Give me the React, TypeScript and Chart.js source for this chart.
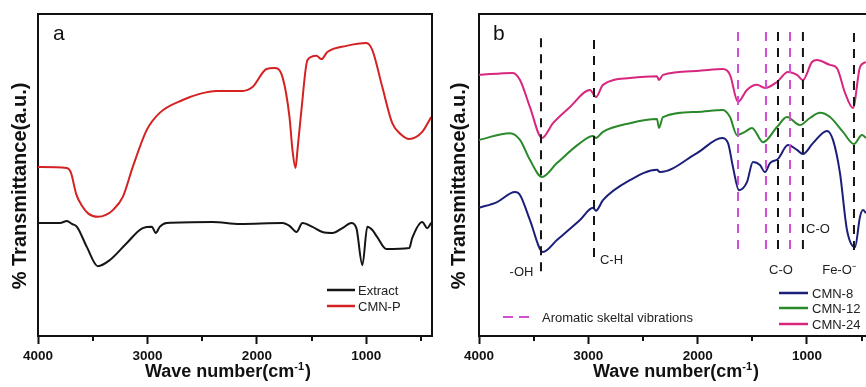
import React, { useEffect, useRef } from 'react';
import { Chart, registerables } from 'chart.js';

Chart.register(...registerables);

const FONT = '"Liberation Sans", Arial, Helvetica, sans-serif';

// ---------- Panel a ----------
const extractWave = [4000, 3799, 3736, 3690, 3644, 3553, 3453, 3343, 3188, 3043, 2960, 2924, 2888, 2824, 2404, 2158, 1766, 1702, 1638, 1584, 1492, 1401, 1310, 1219, 1137, 1091, 1036, 991, 945, 900, 818, 608, 581, 489, 444, 407];
const extractT = [35.1, 35.1, 35.7, 34.8, 33.9, 27.6, 21.7, 23.6, 28.9, 33.5, 33.9, 32.0, 33.9, 35.1, 35.4, 34.8, 35.1, 34.2, 32.3, 35.1, 33.9, 32.3, 32.0, 33.5, 35.1, 33.5, 22.0, 33.9, 32.9, 30.7, 27.0, 27.3, 30.4, 35.4, 33.5, 35.1];

const cmnPWave = [4000, 3736, 3700, 3650, 3600, 3540, 3453, 3380, 3316, 3225, 3134, 3006, 2888, 2678, 2523, 2368, 2131, 2040, 1912, 1839, 1766, 1702, 1675, 1647, 1629, 1593, 1538, 1456, 1410, 1356, 1182, 1000, 945, 854, 763, 680, 608, 489, 407];
const cmnPT = [52.5, 52.2, 50.8, 44.0, 40.5, 38.0, 37.0, 37.6, 39.1, 43.2, 52.5, 64.0, 69.3, 73.3, 75.2, 76.1, 76.1, 77.3, 82.9, 83.2, 80.4, 68.0, 57.8, 52.2, 57.8, 70.2, 85.7, 87.0, 86.0, 88.2, 90.1, 91.0, 88.8, 77.3, 66.1, 62.5, 61.2, 63.4, 68.0];

// ---------- Panel b ----------
const cmn8Wave = [4000, 3835, 3671, 3625, 3534, 3415, 3287, 3076, 2957, 2930, 2866, 2619, 2372, 2345, 2006, 1777, 1722, 1677, 1622, 1549, 1494, 1430, 1384, 1338, 1265, 1174, 1091, 1037, 945, 817, 762, 698, 634, 561, 515, 488, 460];
const cmn8T = [39.8, 41.6, 44.7, 43.8, 36.0, 26.1, 29.8, 36.0, 39.8, 38.9, 42.2, 48.4, 51.6, 50.9, 56.8, 61.5, 59.9, 52.5, 45.3, 47.8, 54.0, 53.1, 50.9, 53.7, 55.0, 59.3, 57.8, 56.5, 59.9, 63.7, 60.9, 50.6, 32.9, 27.6, 37.0, 39.1, 38.2];

const cmn12Wave = [4000, 3716, 3625, 3534, 3424, 3287, 3076, 2957, 2930, 2866, 2619, 2372, 2354, 2317, 2006, 1768, 1704, 1640, 1567, 1503, 1402, 1274, 1183, 1064, 973, 881, 790, 671, 570, 497, 460];
const cmn12T = [60.9, 63.0, 60.9, 54.7, 49.4, 53.7, 59.9, 62.1, 61.5, 63.4, 66.1, 67.4, 64.6, 68.0, 69.6, 70.2, 68.0, 62.4, 63.4, 64.6, 60.2, 64.9, 68.0, 65.5, 67.7, 69.3, 68.0, 63.4, 59.6, 62.4, 61.5];

const cmn24Wave = [4000, 3689, 3625, 3534, 3424, 3323, 3168, 2985, 2930, 2866, 2619, 2372, 2354, 2317, 2006, 1768, 1704, 1631, 1549, 1457, 1384, 1274, 1174, 1091, 1037, 954, 908, 790, 726, 652, 579, 515, 460];
const cmn24T = [81.1, 81.7, 79.5, 71.1, 61.5, 66.1, 71.1, 76.4, 74.2, 78.0, 80.1, 80.7, 79.5, 81.1, 82.3, 82.9, 81.1, 72.7, 76.4, 78.0, 77.0, 78.9, 82.0, 81.1, 79.5, 85.1, 85.7, 84.2, 83.2, 75.5, 70.8, 83.5, 85.1];

// marker lines (wavenumber, top, bottom, kind)
const peakWaves = [3433, 2948, 1631, 1375, 1265, 1155, 1037, 570];
const peakTop = [92.5, 91.9, 94.4, 94.4, 94.4, 94.4, 94.4, 94.1];
const peakBottom = [18.9, 23.0, 25.2, 25.2, 25.2, 25.2, 25.2, 25.2];
const peakKind = ['band', 'band', 'aromatic', 'aromatic', 'band', 'aromatic', 'band', 'band'];

// band labels
const bandLabels = ['-OH', 'C-H', 'C-O', 'C-O', 'Fe-O\u207B'];
const bandLabelWave = [3611, 2788, 1238, 899, 707];
const bandLabelT = [19.9, 23.6, 20.5, 33.2, 20.5];

// axis ticks
const xMajorTicks = [4000, 3000, 2000, 1000];
const xMinorTicks = [3500, 2500, 1500, 500];

const yTitle = '% Transmittance(a.u.)';
const xTitleMain = 'Wave number(cm';
const xTitleSup = '-1';

const COLORS = {
  extract: '#151515',
  cmnP: '#d42222',
  cmn8: '#1b1f7a',
  cmn12: '#2a8a2a',
  cmn24: '#d8267e',
  band: '#151515',
  aromatic: '#d24fd2',
};

const pts = (w: number[], t: number[]) => w.map((x, i) => ({ x, y: t[i] }));

function curve(label: string, w: number[], t: number[], color: string) {
  return {
    label,
    data: pts(w, t),
    borderColor: color,
    backgroundColor: color,
    borderWidth: 2,
    pointRadius: 0,
    fill: false,
    cubicInterpolationMode: 'monotone',
  };
}

function makeDecor(cfg: any) {
  return {
    id: 'decor' + cfg.letter,
    afterDraw(chart: any) {
      const { ctx, chartArea: ca, scales } = chart;
      const xs = scales.x;
      const ys = scales.y;
      ctx.save();
      // frame
      ctx.strokeStyle = '#111';
      ctx.lineWidth = 2;
      ctx.beginPath();
      ctx.moveTo(ca.left - 1, ca.top);
      ctx.lineTo(cfg.rightBorder ? ca.right + 1 : ca.right, ca.top);
      if (cfg.rightBorder) {
        ctx.moveTo(ca.right, ca.top);
        ctx.lineTo(ca.right, ca.bottom + 1);
      }
      // minor ticks
      xMinorTicks.forEach((v) => {
        if (v >= xs.min && v <= xs.max) {
          const px = Math.round(xs.getPixelForValue(v));
          ctx.moveTo(px, ca.bottom);
          ctx.lineTo(px, ca.bottom + 5);
        }
      });
      ctx.stroke();

      // panel letter
      ctx.fillStyle = '#111';
      ctx.font = `21px ${FONT}`;
      ctx.textAlign = 'left';
      ctx.textBaseline = 'middle';
      ctx.fillText(cfg.letter, cfg.letterX, 34);

      // band labels
      if (cfg.bandLabels) {
        ctx.font = `13px ${FONT}`;
        ctx.fillStyle = '#222';
        ctx.textAlign = 'center';
        bandLabels.forEach((txt, i) => {
          ctx.fillText(txt, xs.getPixelForValue(bandLabelWave[i]), ys.getPixelForValue(bandLabelT[i]));
        });
      }

      // legend
      const lg = cfg.legend;
      ctx.font = `13px ${FONT}`;
      ctx.textAlign = 'left';
      lg.items.forEach((it: any, i: number) => {
        ctx.strokeStyle = it.color;
        ctx.lineWidth = 2.5;
        ctx.setLineDash([]);
        ctx.beginPath();
        ctx.moveTo(lg.x0, lg.ys[i]);
        ctx.lineTo(lg.x1, lg.ys[i]);
        ctx.stroke();
        ctx.fillStyle = '#222';
        ctx.fillText(it.label, lg.tx, lg.ys[i] + 1);
      });
      if (cfg.note) {
        const n = cfg.note;
        ctx.strokeStyle = COLORS.aromatic;
        ctx.lineWidth = 2;
        ctx.setLineDash([10, 6]);
        ctx.beginPath();
        ctx.moveTo(n.x0, n.y);
        ctx.lineTo(n.x1, n.y);
        ctx.stroke();
        ctx.setLineDash([]);
        ctx.fillStyle = '#222';
        ctx.fillText(n.text, n.tx, n.y + 1);
      }

      // y title
      ctx.save();
      ctx.translate(cfg.yTitleX, 186);
      ctx.rotate(-Math.PI / 2);
      ctx.font = `bold 20px ${FONT}`;
      ctx.fillStyle = '#111';
      ctx.textAlign = 'center';
      ctx.textBaseline = 'middle';
      ctx.fillText(yTitle, 0, 0);
      ctx.restore();

      // x title with superscript
      ctx.font = `bold 18px ${FONT}`;
      const wMain = ctx.measureText(xTitleMain).width;
      ctx.font = `bold 11px ${FONT}`;
      const wSup = ctx.measureText(xTitleSup).width;
      ctx.font = `bold 18px ${FONT}`;
      const wClose = ctx.measureText(')').width;
      const total = wMain + wSup + wClose + 1;
      let x = cfg.xTitleCX - total / 2;
      ctx.textAlign = 'left';
      ctx.textBaseline = 'alphabetic';
      ctx.fillStyle = '#111';
      const base = 377;
      ctx.fillText(xTitleMain, x, base);
      x += wMain;
      ctx.font = `bold 11px ${FONT}`;
      ctx.fillText(xTitleSup, x, base - 7);
      x += wSup + 1;
      ctx.font = `bold 18px ${FONT}`;
      ctx.fillText(')', x, base);
      ctx.restore();
    },
  };
}

function buildConfig(cfg: any) {
  return {
    type: 'line',
    data: { datasets: cfg.datasets },
    options: {
      responsive: false,
      animation: false,
      devicePixelRatio: 1,
      events: [],
      layout: { padding: { top: 14, right: cfg.padRight, left: 0, bottom: 0 } },
      plugins: { legend: { display: false }, tooltip: { enabled: false } },
      scales: {
        x: {
          type: 'linear',
          reverse: true,
          min: cfg.xMin,
          max: 4000,
          afterBuildTicks: (s: any) => {
            s.ticks = xMajorTicks.filter((v) => v >= s.min && v <= s.max).map((v) => ({ value: v }));
          },
          afterFit: (s: any) => {
            s.height = 51;
          },
          ticks: {
            font: { family: FONT, size: 13.5, weight: 'bold' },
            color: '#111',
            padding: 4,
            maxRotation: 0,
            autoSkip: false,
            callback: (v: any) => String(v),
          },
          grid: { display: true, drawOnChartArea: false, drawTicks: true, tickLength: 8, tickColor: '#111', tickWidth: 2 },
          border: { display: true, color: '#111', width: 2 },
        },
        y: {
          min: 0,
          max: 100,
          afterFit: (s: any) => {
            s.width = cfg.yWidth;
          },
          ticks: { display: false },
          grid: { display: false, drawTicks: false },
          border: { display: true, color: '#111', width: 2 },
        },
      },
    },
    plugins: [makeDecor(cfg)],
  };
}

const panelA = {
  letter: 'a',
  letterX: 53,
  xMin: 400,
  padRight: 8,
  yWidth: 38,
  rightBorder: true,
  yTitleX: 20,
  xTitleCX: 228,
  bandLabels: false,
  legend: {
    x0: 327,
    x1: 355,
    tx: 358,
    ys: [290, 306],
    items: [
      { label: 'Extract', color: COLORS.extract },
      { label: 'CMN-P', color: COLORS.cmnP },
    ],
  },
  datasets: [curve('Extract', extractWave, extractT, COLORS.extract), curve('CMN-P', cmnPWave, cmnPT, COLORS.cmnP)],
};

const peakDatasets = peakWaves.map((w, i) => ({
  label: 'peak' + w,
  data: [
    { x: w, y: peakTop[i] },
    { x: w, y: peakBottom[i] },
  ],
  borderColor: peakKind[i] === 'aromatic' ? COLORS.aromatic : COLORS.band,
  borderWidth: 2,
  borderDash: [9, 7],
  pointRadius: 0,
  fill: false,
}));

const panelB = {
  letter: 'b',
  letterX: 53,
  xMin: 460,
  padRight: 0,
  yWidth: 39,
  rightBorder: false,
  yTitleX: 19,
  xTitleCX: 236,
  bandLabels: true,
  legend: {
    x0: 339,
    x1: 368,
    tx: 372,
    ys: [293, 308, 324],
    items: [
      { label: 'CMN-8', color: COLORS.cmn8 },
      { label: 'CMN-12', color: COLORS.cmn12 },
      { label: 'CMN-24', color: COLORS.cmn24 },
    ],
  },
  note: { x0: 63, x1: 91, tx: 102, y: 317, text: 'Aromatic skeltal vibrations' },
  datasets: [
    ...peakDatasets,
    curve('CMN-8', cmn8Wave, cmn8T, COLORS.cmn8),
    curve('CMN-12', cmn12Wave, cmn12T, COLORS.cmn12),
    curve('CMN-24', cmn24Wave, cmn24T, COLORS.cmn24),
  ],
};

function Panel({ cfg, left, width }: { cfg: any; left: number; width: number }) {
  const ref = useRef<HTMLCanvasElement | null>(null);
  useEffect(() => {
    if (!ref.current) return;
    const chart = new Chart(ref.current, buildConfig(cfg) as any);
    return () => chart.destroy();
  }, [cfg]);
  return (
    <canvas
      ref={ref}
      width={width}
      height={387}
      style={{ position: 'absolute', left, top: 0, width, height: 387, display: 'block' }}
    />
  );
}

export default function App() {
  return (
    <div style={{ position: 'fixed', left: 0, top: 0, width: 866, height: 387, background: '#fff', overflow: 'hidden' }}>
      <Panel cfg={panelA} left={0} width={440} />
      <Panel cfg={panelB} left={440} width={426} />
    </div>
  );
}
